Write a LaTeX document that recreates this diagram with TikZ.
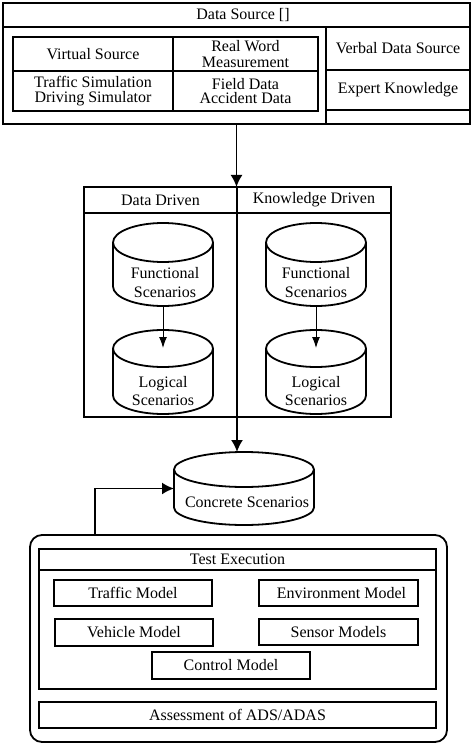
\documentclass[tikz,border=0pt]{standalone}
\usepackage{fontspec}
\setmainfont{Liberation Serif}
\usetikzlibrary{shapes,arrows,positioning,fit,backgrounds,calc,arrows.meta}
\newcommand{\boxfont}{\fontsize{16}{14.5}\selectfont}
\tikzstyle{arrow} = [-{Latex[length=12pt,width=12pt]}, line width=1.8pt]
\tikzstyle{thinarrow} = [-{Latex[length=11pt,width=8pt]}, line width=1pt]
\tikzstyle{frame} = [rectangle, draw, line width=2.4pt, inner sep=0pt, outer sep=0pt]
\tikzstyle{cell} = [rectangle, draw, line width=1.8pt, inner sep=0pt, outer sep=0pt, align=center, font=\boxfont]
\tikzstyle{model} = [cell, line width=2.4pt, minimum width=158pt, minimum height=26pt]
\tikzstyle{drum} = [rectangle, inner sep=0pt, outer sep=0pt]
\tikzstyle{dbtext} = [align=center, font=\boxfont]
% cylinder outline round a drum node: name, x radius, y radius
\newcommand{\drawdrum}[3]{%
    \draw[line width=1.8pt] ([yshift=-#3]#1.north west) -- ([yshift=#3]#1.south west)
        arc[start angle=180, end angle=360, x radius=#2, y radius=#3]
        -- ([yshift=-#3]#1.north east);
    \draw[line width=1.8pt] ([yshift=-#3]#1.north) ellipse [x radius=#2, y radius=#3];
}

\begin{document}
\begin{tikzpicture}[x=1pt, y=-1pt]
    \useasboundingbox (0,0) rectangle (474,746);

    % Data source
    \node[frame, minimum width=467pt, minimum height=121pt] (src) at (236.5,63.5) {};
    \node[cell, line width=2.4pt, minimum width=467pt, minimum height=24pt] (srchead) at (236.5,15) {\hspace{13pt}Data Source []};
    \node[frame, minimum width=305pt, minimum height=74pt] (meas) at (165.5,74) {};
    \node[cell, minimum width=160pt, minimum height=34pt] (virt) at (93,54) {Virtual Source};
    \node[cell, minimum width=145pt, minimum height=34pt, right=0pt of virt] (real) {Real Word\\[2pt]Measurement};
    \node[cell, minimum width=160pt, minimum height=40pt, below=0pt of virt] (sim) {Traffic Simulation\\Driving Simulator};
    \node[cell, minimum width=145pt, minimum height=40pt, right=0pt of sim] (field) {Field Data\\Accident Data};
    \node[cell, minimum width=144pt, minimum height=43pt] (verbal) at (398,48.5) {Verbal Data Source};
    \node[cell, minimum width=144pt, minimum height=40pt, below=0pt of verbal] (expert) {Expert Knowledge};
    \node[cell, minimum width=144pt, minimum height=14pt, below=0pt of expert] (spare) {};

    % Scenario generation
    \node[frame, minimum width=153pt, minimum height=230pt] (ddcol) at (160.5,302) {};
    \node[frame, minimum width=154pt, minimum height=230pt, right=0pt of ddcol] (kdcol) {};
    \node[cell, line width=2.4pt, minimum width=153pt, minimum height=26pt, anchor=north] (ddhead) at (ddcol.north) {Data Driven};
    \node[cell, line width=2.4pt, minimum width=154pt, minimum height=26pt, anchor=north] (kdhead) at (kdcol.north) {Knowledge Driven};

    \node[drum, minimum width=100pt, minimum height=83pt] (fs1) at (163,264.5) {};
    \node[drum, minimum width=100pt, minimum height=84pt] (ls1) at (163,372) {};
    \node[drum, minimum width=100pt, minimum height=83pt] (fs2) at (316,264.5) {};
    \node[drum, minimum width=100pt, minimum height=84pt] (ls2) at (316,372) {};
    \drawdrum{fs1}{50pt}{19.5pt}
    \drawdrum{ls1}{50pt}{18.5pt}
    \drawdrum{fs2}{50pt}{19.5pt}
    \drawdrum{ls2}{50pt}{18.5pt}
    \node[dbtext] (fs1txt) at ($(fs1.center)+(2,18)$) {Functional\\[4pt]Scenarios};
    \node[dbtext] (ls1txt) at ($(ls1.center)+(0,19)$) {Logical\\[4pt]Scenarios};
    \node[dbtext] (fs2txt) at ($(fs2.center)+(0,18)$) {Functional\\[4pt]Scenarios};
    \node[dbtext] (ls2txt) at ($(ls2.center)+(0,19)$) {Logical\\[4pt]Scenarios};

    % Concrete scenarios
    \node[drum, minimum width=140pt, minimum height=73pt] (cs) at (244,488.5) {};
    \drawdrum{cs}{70pt}{17.5pt}
    \node[dbtext] (cstxt) at ($(cs.center)+(3,14)$) {Concrete Scenarios};

    % Test execution
    \node[rectangle, draw, rounded corners=12pt, line width=1.8pt, minimum width=417pt, minimum height=207pt] (test) at (238.5,638.5) {};
    \node[frame, minimum width=397pt, minimum height=140pt] (exec) at (237.5,619) {};
    \node[cell, line width=2.4pt, minimum width=397pt, minimum height=21pt, anchor=north] (exechead) at (exec.north) {Test Execution};
    \node[model] (traffic) at (133,593) {Traffic Model};
    \node[model, minimum width=159pt] (env) at (338.5,593) {\hspace{6pt}Environment Model};
    \node[model, minimum height=27pt] (vehicle) at (134,632.5) {Vehicle Model};
    \node[model, minimum width=159pt] (sensor) at (338.5,632) {Sensor Models};
    \node[model, minimum height=27pt] (control) at (231,665.5) {Control Model};
    \node[frame, minimum width=397pt, minimum height=26pt, font=\boxfont] (assess) at (237.5,715) {Assessment of ADS/ADAS};

    % Arrows
    \draw[arrow] (src.south) -- (src.south |- ddhead.north);
    \draw[thinarrow] (fs1.south) -- ([yshift=-18pt]ls1.north);
    \draw[thinarrow] (fs2.south) -- ([yshift=-18pt]ls2.north);
    \draw[arrow] (ddcol.south east) -- (ddcol.south east |- cs.north);
    \draw[arrow] ([xshift=-143.5pt]test.north) |- (cs.west);
\end{tikzpicture}
\end{document}
